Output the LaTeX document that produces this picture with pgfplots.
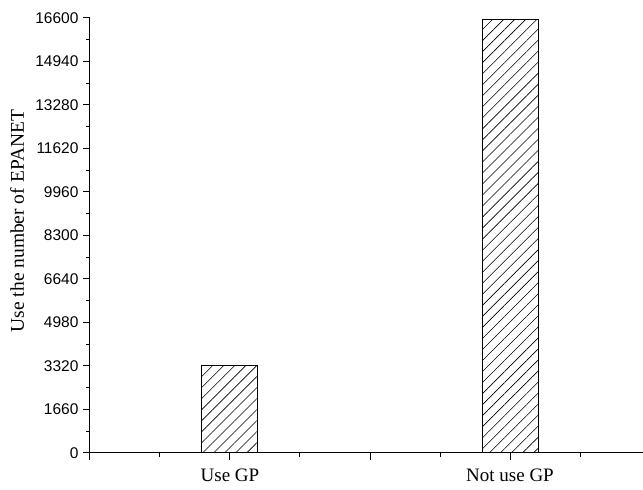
\documentclass[border=0pt]{standalone}
\usepackage{pgfplots}
\pgfplotsset{compat=1.18}
\usepackage{fontspec}
\setmainfont{Liberation Serif}
\newfontfamily\arialfont{Liberation Sans}
\usetikzlibrary{patterns.meta}
\begin{document}
\begin{tikzpicture}
\begin{axis}[
  name=ax,
  scale only axis,
  width=553pt, height=435pt,
  xmin=0, xmax=3.95,
  ymin=0, ymax=16600,
  axis x line*=bottom, axis y line*=left,
  x axis line style={-, line width=1pt},
  y axis line style={-, line width=1pt},
  xtick={0,1,2,3},
  xticklabels={,Use GP,,Not use GP},
  minor xtick={0.5,1.5,2.5,3.5},
  ytick={0,1660,3320,4980,6640,8300,9960,11620,13280,14940,16600},
  minor ytick={830,2490,4150,5810,7470,9130,10790,12450,14110,15770},
  tick align=outside,
  major tick length=7pt, minor tick length=3.5pt,
  every tick/.style={black, line width=1pt},
  scaled y ticks=false,
  /pgf/number format/1000 sep={},
  /pgf/number format/assume math mode=true,
  yticklabel style={font=\arialfont\fontsize{15.5}{18}\selectfont, xshift=-1pt},
  xticklabel style={font=\fontsize{19}{22}\selectfont, yshift=-5pt},
  ylabel={Use the number of EPANET},
  ylabel style={font=\fontsize{19.5}{23}\selectfont, at={([xshift=-73pt]axis description cs:0,0.533)}, anchor=center, rotate=0},
  clip=false,
]
\addplot[ybar, bar width=0.4, draw=black, line width=1pt,
  pattern={Lines[angle=45, distance=7.8pt, line width=0.6pt]}, pattern color=black]
  coordinates {(1,3330) (3,16560)};
\end{axis}
\pgfresetboundingbox
\path[use as bounding box] ([xshift=-90pt,yshift=-37pt]ax.south west) rectangle ([yshift=18pt]ax.north east);
\end{tikzpicture}
\end{document}
